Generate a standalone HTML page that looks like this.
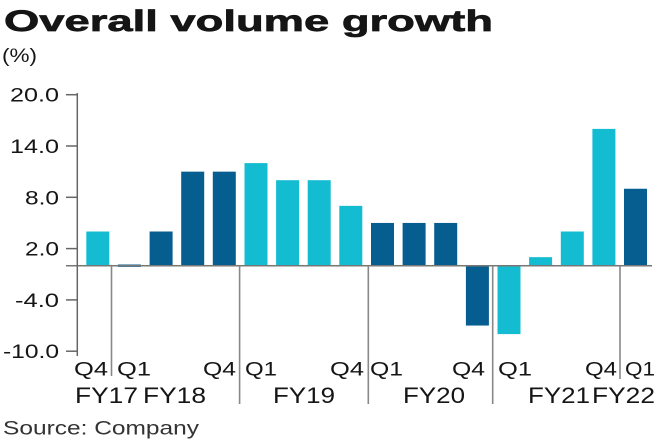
<!DOCTYPE html>
<html>
<head>
<meta charset="utf-8">
<style>
  html,body{margin:0;padding:0;background:#fff;}
  svg{display:block;}
  text{font-family:"Liberation Sans",sans-serif;fill:#151515;}
</style>
</head>
<body>
<svg width="660" height="440" viewBox="0 0 660 440" xmlns="http://www.w3.org/2000/svg">
  <!-- Title -->
  <text x="4" y="31" font-size="30" font-weight="bold" textLength="489" lengthAdjust="spacingAndGlyphs" style="stroke:#151515;stroke-width:0.7">Overall volume growth</text>
  <text x="2" y="62" font-size="19" textLength="35" lengthAdjust="spacingAndGlyphs">(%)</text>

  <!-- Bars -->
  <g>
    <rect x="86.3" y="231.5" width="23" height="34.2" fill="#14bcd2"/>
    <rect x="117.9" y="264.5" width="23" height="2.4" fill="#065d8f"/>
    <rect x="149.6" y="231.5" width="23" height="34.2" fill="#065d8f"/>
    <rect x="181.2" y="171.65" width="23" height="94.05" fill="#065d8f"/>
    <rect x="212.8" y="171.65" width="23" height="94.05" fill="#065d8f"/>
    <rect x="244.5" y="163.1" width="23" height="102.6" fill="#14bcd2"/>
    <rect x="276.1" y="180.2" width="23" height="85.5" fill="#14bcd2"/>
    <rect x="307.7" y="180.2" width="23" height="85.5" fill="#14bcd2"/>
    <rect x="339.3" y="205.85" width="23" height="59.85" fill="#14bcd2"/>
    <rect x="371.0" y="222.95" width="23" height="42.75" fill="#065d8f"/>
    <rect x="402.6" y="222.95" width="23" height="42.75" fill="#065d8f"/>
    <rect x="434.2" y="222.95" width="23" height="42.75" fill="#065d8f"/>
    <rect x="465.9" y="265.7" width="23" height="59.85" fill="#065d8f"/>
    <rect x="497.5" y="265.7" width="23" height="68.4" fill="#14bcd2"/>
    <rect x="529.1" y="257.15" width="23" height="8.55" fill="#14bcd2"/>
    <rect x="560.8" y="231.5" width="23" height="34.2" fill="#14bcd2"/>
    <rect x="592.4" y="128.9" width="23" height="136.8" fill="#14bcd2"/>
    <rect x="624.0" y="188.75" width="23" height="76.95" fill="#065d8f"/>
  </g>

  <!-- Zero line -->
  <line x1="66" y1="265.7" x2="652" y2="265.7" stroke="#777" stroke-width="1.5"/>

  <!-- Y axis -->
  <line x1="77.3" y1="93" x2="77.3" y2="356" stroke="#666" stroke-width="1.5"/>
  <g stroke="#666" stroke-width="1.5">
    <line x1="66" y1="94.7" x2="77.3" y2="94.7"/>
    <line x1="66" y1="146" x2="77.3" y2="146"/>
    <line x1="66" y1="197.3" x2="77.3" y2="197.3"/>
    <line x1="66" y1="248.6" x2="77.3" y2="248.6"/>
    <line x1="66" y1="299.9" x2="77.3" y2="299.9"/>
    <line x1="66" y1="351.2" x2="77.3" y2="351.2"/>
  </g>
  <g font-size="19" text-anchor="end">
    <text x="59" y="101.7" textLength="49" lengthAdjust="spacingAndGlyphs">20.0</text>
    <text x="59" y="153" textLength="49" lengthAdjust="spacingAndGlyphs">14.0</text>
    <text x="59" y="204.3" textLength="34" lengthAdjust="spacingAndGlyphs">8.0</text>
    <text x="59" y="255.6" textLength="34" lengthAdjust="spacingAndGlyphs">2.0</text>
    <text x="59" y="306.9" textLength="44" lengthAdjust="spacingAndGlyphs">-4.0</text>
    <text x="59" y="358.2" textLength="56" lengthAdjust="spacingAndGlyphs">-10.0</text>
  </g>

  <!-- Separators -->
  <g stroke="#888" stroke-width="1.6">
    <line x1="111.5" y1="265.7" x2="111.5" y2="376"/>
    <line x1="239.6" y1="265.7" x2="239.6" y2="404"/>
    <line x1="368.3" y1="265.7" x2="368.3" y2="404"/>
    <line x1="492.7" y1="265.7" x2="492.7" y2="404"/>
    <line x1="620" y1="265.7" x2="620" y2="379"/>
  </g>

  <!-- Quarter labels -->
  <g font-size="19">
    <text x="74" y="375.5" textLength="34" lengthAdjust="spacingAndGlyphs">Q4</text>
    <text x="117" y="375.5" textLength="34" lengthAdjust="spacingAndGlyphs">Q1</text>
    <text x="203" y="375.5" textLength="33" lengthAdjust="spacingAndGlyphs">Q4</text>
    <text x="245" y="375.5" textLength="32" lengthAdjust="spacingAndGlyphs">Q1</text>
    <text x="330" y="375.5" textLength="34" lengthAdjust="spacingAndGlyphs">Q4</text>
    <text x="370" y="375.5" textLength="33" lengthAdjust="spacingAndGlyphs">Q1</text>
    <text x="452" y="375.5" textLength="33" lengthAdjust="spacingAndGlyphs">Q4</text>
    <text x="498" y="375.5" textLength="34" lengthAdjust="spacingAndGlyphs">Q1</text>
    <text x="585" y="375.5" textLength="32" lengthAdjust="spacingAndGlyphs">Q4</text>
    <text x="625" y="375.5" textLength="30" lengthAdjust="spacingAndGlyphs">Q1</text>
  </g>

  <!-- FY labels -->
  <g font-size="22">
    <text x="75" y="403" textLength="63" lengthAdjust="spacingAndGlyphs">FY17</text>
    <text x="143" y="403" textLength="63" lengthAdjust="spacingAndGlyphs">FY18</text>
    <text x="273" y="403" textLength="62" lengthAdjust="spacingAndGlyphs">FY19</text>
    <text x="403" y="403" textLength="62" lengthAdjust="spacingAndGlyphs">FY20</text>
    <text x="528" y="403" textLength="62" lengthAdjust="spacingAndGlyphs">FY21</text>
    <text x="592" y="403" textLength="63" lengthAdjust="spacingAndGlyphs">FY22</text>
  </g>

  <!-- Source -->
  <text x="3" y="434.7" font-size="19.5" style="fill:#333" textLength="196" lengthAdjust="spacingAndGlyphs">Source: Company</text>
</svg>
</body>
</html>
